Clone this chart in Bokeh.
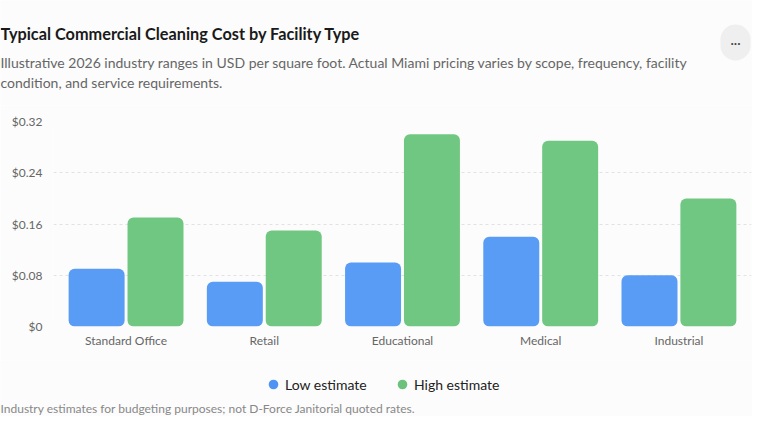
from bokeh.plotting import figure
from bokeh.layouts import column
from bokeh.models import (FactorRange, Range1d, Label, Legend, LegendItem,
                          FixedTicker, ColumnDataSource)
from bokeh.transform import dodge
from bokeh.embed import file_html
from bokeh.resources import INLINE

# ---- data ----
categories = ["Standard Office", "Retail", "Educational", "Medical", "Industrial"]
low_estimate = [0.09, 0.07, 0.10, 0.14, 0.08]
high_estimate = [0.17, 0.15, 0.30, 0.29, 0.20]
y_ticks = [0, 0.08, 0.16, 0.24, 0.32]
y_tick_labels = ["$0", "$0.08", "$0.16", "$0.24", "$0.32"]
series_names = ["Low estimate", "High estimate"]

title_text = "Typical Commercial Cleaning Cost by Facility Type"
subtitle_lines = [
    "Illustrative 2026 industry ranges in USD per square foot. Actual Miami pricing varies by scope, frequency, facility",
    "condition, and service requirements.",
]
footer_text = "Industry estimates for budgeting purposes; not D-Force Janitorial quoted rates."

# ---- style ----
BG = "#fcfcfc"
BLUE = "#589cf6"
GREEN = "#70c781"
FONT = "Lato"
W = 752
TOP_H, MAIN_H, BOT_H = 105, 255, 56


def blank_fig(h):
    f = figure(width=W, height=h, x_range=Range1d(0, W), y_range=Range1d(0, h),
               output_backend="svg", toolbar_location=None,
               x_axis_location=None, y_axis_location=None,
               min_border=0, min_border_left=0, min_border_right=0,
               min_border_top=0, min_border_bottom=0, frame_align=False)
    f.background_fill_color = BG
    f.border_fill_color = BG
    f.outline_line_color = None
    f.grid.visible = False
    return f


# ---- header ----
top = blank_fig(TOP_H)
top.add_layout(Label(x=0, y=33, x_units="canvas", y_units="canvas", text=title_text,
                     text_font=FONT, text_font_size="16.3px", text_font_style="bold",
                     text_color="#1a1a1a", text_baseline="middle"))
for i, line in enumerate(subtitle_lines):
    top.add_layout(Label(x=0, y=62 + 20 * i, x_units="canvas", y_units="canvas", text=line,
                         text_font=FONT, text_font_size="14px", text_color="#666666",
                         text_baseline="middle"))
top.add_layout(Label(x=735, y=42, x_units="canvas", y_units="canvas", text="···",
                     text_font=FONT, text_font_size="13px", text_color="#444444",
                     text_align="center", text_baseline="middle",
                     background_fill_color="#efefef", padding=10, border_radius=17))

# ---- main chart ----
p = figure(width=W, height=MAIN_H,
           x_range=FactorRange(*categories, range_padding=0.01),
           y_range=Range1d(0, 0.32),
           output_backend="svg", toolbar_location=None,
           min_border_left=53, min_border_right=1,
           min_border_top=16, min_border_bottom=34, frame_align=False)
p.background_fill_color = BG
p.border_fill_color = BG
p.outline_line_color = None

source = ColumnDataSource(dict(categories=categories, low=low_estimate, high=high_estimate))
p.vbar(x=dodge("categories", -0.213, range=p.x_range), top="low", width=0.405,
       source=source, fill_color=BLUE, line_color=None, border_radius=6)
p.vbar(x=dodge("categories", 0.213, range=p.x_range), top="high", width=0.405,
       source=source, fill_color=GREEN, line_color=None, border_radius=6)

p.yaxis.ticker = FixedTicker(ticks=y_ticks)
p.yaxis.major_label_overrides = {t: l for t, l in zip(y_ticks, y_tick_labels)}
for ax in (p.xaxis, p.yaxis):
    ax.axis_line_color = None
    ax.major_tick_line_color = None
    ax.minor_tick_line_color = None
    ax.major_tick_in = 0
    ax.major_tick_out = 0
    ax.major_label_text_font = FONT
    ax.major_label_text_font_size = "12px"
    ax.major_label_text_color = "#666666"
p.yaxis.major_label_text_align = "right"
p.yaxis.major_label_standoff = 11
p.xaxis.major_label_standoff = 6

p.xgrid.grid_line_color = None
p.ygrid.ticker = FixedTicker(ticks=y_ticks)
p.ygrid.grid_line_color = "#e2e2e2"
p.ygrid.grid_line_dash = "3 3"

# ---- legend + footer ----
bot = blank_fig(BOT_H)
r_low = bot.scatter(x=[-1000], y=[-1000], marker="circle", size=10,
                    fill_color="#4f93f3", line_color=None)
r_high = bot.scatter(x=[-1000], y=[-1000], marker="circle", size=10,
                     fill_color="#6cc27c", line_color=None)
for name, r, lx in ((series_names[0], r_low, 261), (series_names[1], r_high, 390)):
    lg = Legend(items=[LegendItem(label=name, renderers=[r])], location=(lx, 20),
                orientation="horizontal", background_fill_alpha=0, border_line_alpha=0,
                padding=0, margin=0, glyph_width=24, glyph_height=24, label_height=24,
                label_standoff=0, label_text_font=FONT, label_text_font_size="14px",
                label_text_color="#222222")
    bot.add_layout(lg, "center")
bot.add_layout(Label(x=0, y=48, x_units="canvas", y_units="canvas", text=footer_text,
                     text_font=FONT, text_font_size="12px", text_color="#888888",
                     text_baseline="middle"))

layout = column(top, p, bot, spacing=0)
open("out.html", "w").write(file_html(layout, INLINE))
